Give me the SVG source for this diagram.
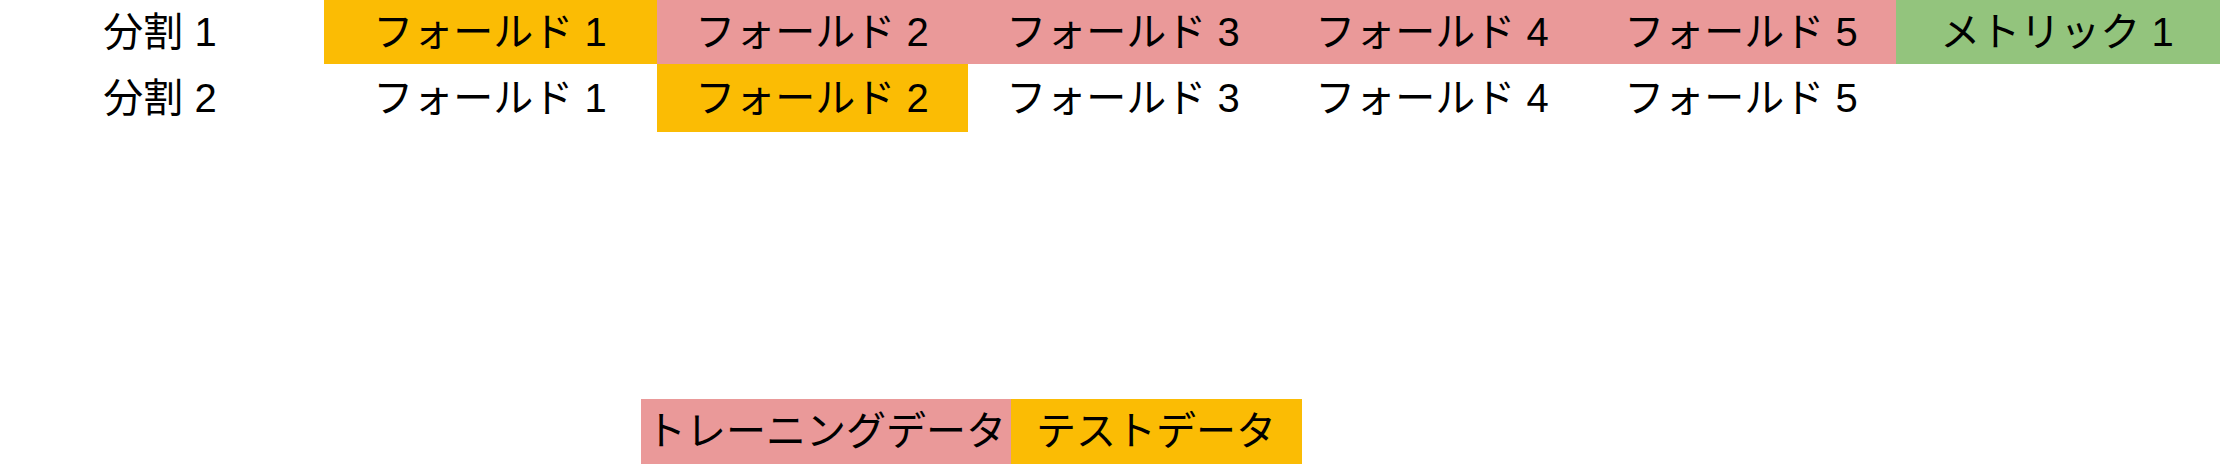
<svg xmlns="http://www.w3.org/2000/svg" width="2220" height="464" viewBox="0 0 2220 464">
<style>
text{font-family:"Liberation Sans","Noto Sans CJK JP",sans-serif;font-size:40px;fill:#000;text-anchor:middle}
.o{fill:#fbbc04}
.p{fill:#ea9999}
.g{fill:#93c47d}
</style>
<rect width="2220" height="464" fill="#fff"/>
<g id="label-split1"><text x="160" y="46">分割 1</text></g>
<g id="label-split2"><text x="160" y="112">分割 2</text></g>
<g id="s1-fold1"><rect class="o" x="324" y="0" width="333" height="64"/><text x="490" y="46">フォールド 1</text></g>
<g id="s1-fold2"><rect class="p" x="657" y="0" width="311" height="64"/><text x="812" y="46">フォールド 2</text></g>
<g id="s1-fold3"><rect class="p" x="967" y="0" width="311" height="64"/><text x="1123" y="46">フォールド 3</text></g>
<g id="s1-fold4"><rect class="p" x="1277" y="0" width="311" height="64"/><text x="1432" y="46">フォールド 4</text></g>
<g id="s1-fold5"><rect class="p" x="1587" y="0" width="309" height="64"/><text x="1741" y="46">フォールド 5</text></g>
<g id="s1-metric1"><rect class="g" x="1896" y="0" width="324" height="64"/><text x="2057" y="46">メトリック 1</text></g>
<g id="s2-fold1"><text x="490" y="112">フォールド 1</text></g>
<g id="s2-fold2"><rect class="o" x="657" y="64" width="311" height="68"/><text x="812" y="112">フォールド 2</text></g>
<g id="s2-fold3"><text x="1123" y="112">フォールド 3</text></g>
<g id="s2-fold4"><text x="1432" y="112">フォールド 4</text></g>
<g id="s2-fold5"><text x="1741" y="112">フォールド 5</text></g>
<g id="legend-train"><rect class="p" x="641" y="399" width="370" height="65"/><text x="826" y="445">トレーニングデータ</text></g>
<g id="legend-test"><rect class="o" x="1011" y="399" width="291" height="65"/><text x="1156" y="445">テストデータ</text></g>
<g id="connectors"></g>
</svg>
